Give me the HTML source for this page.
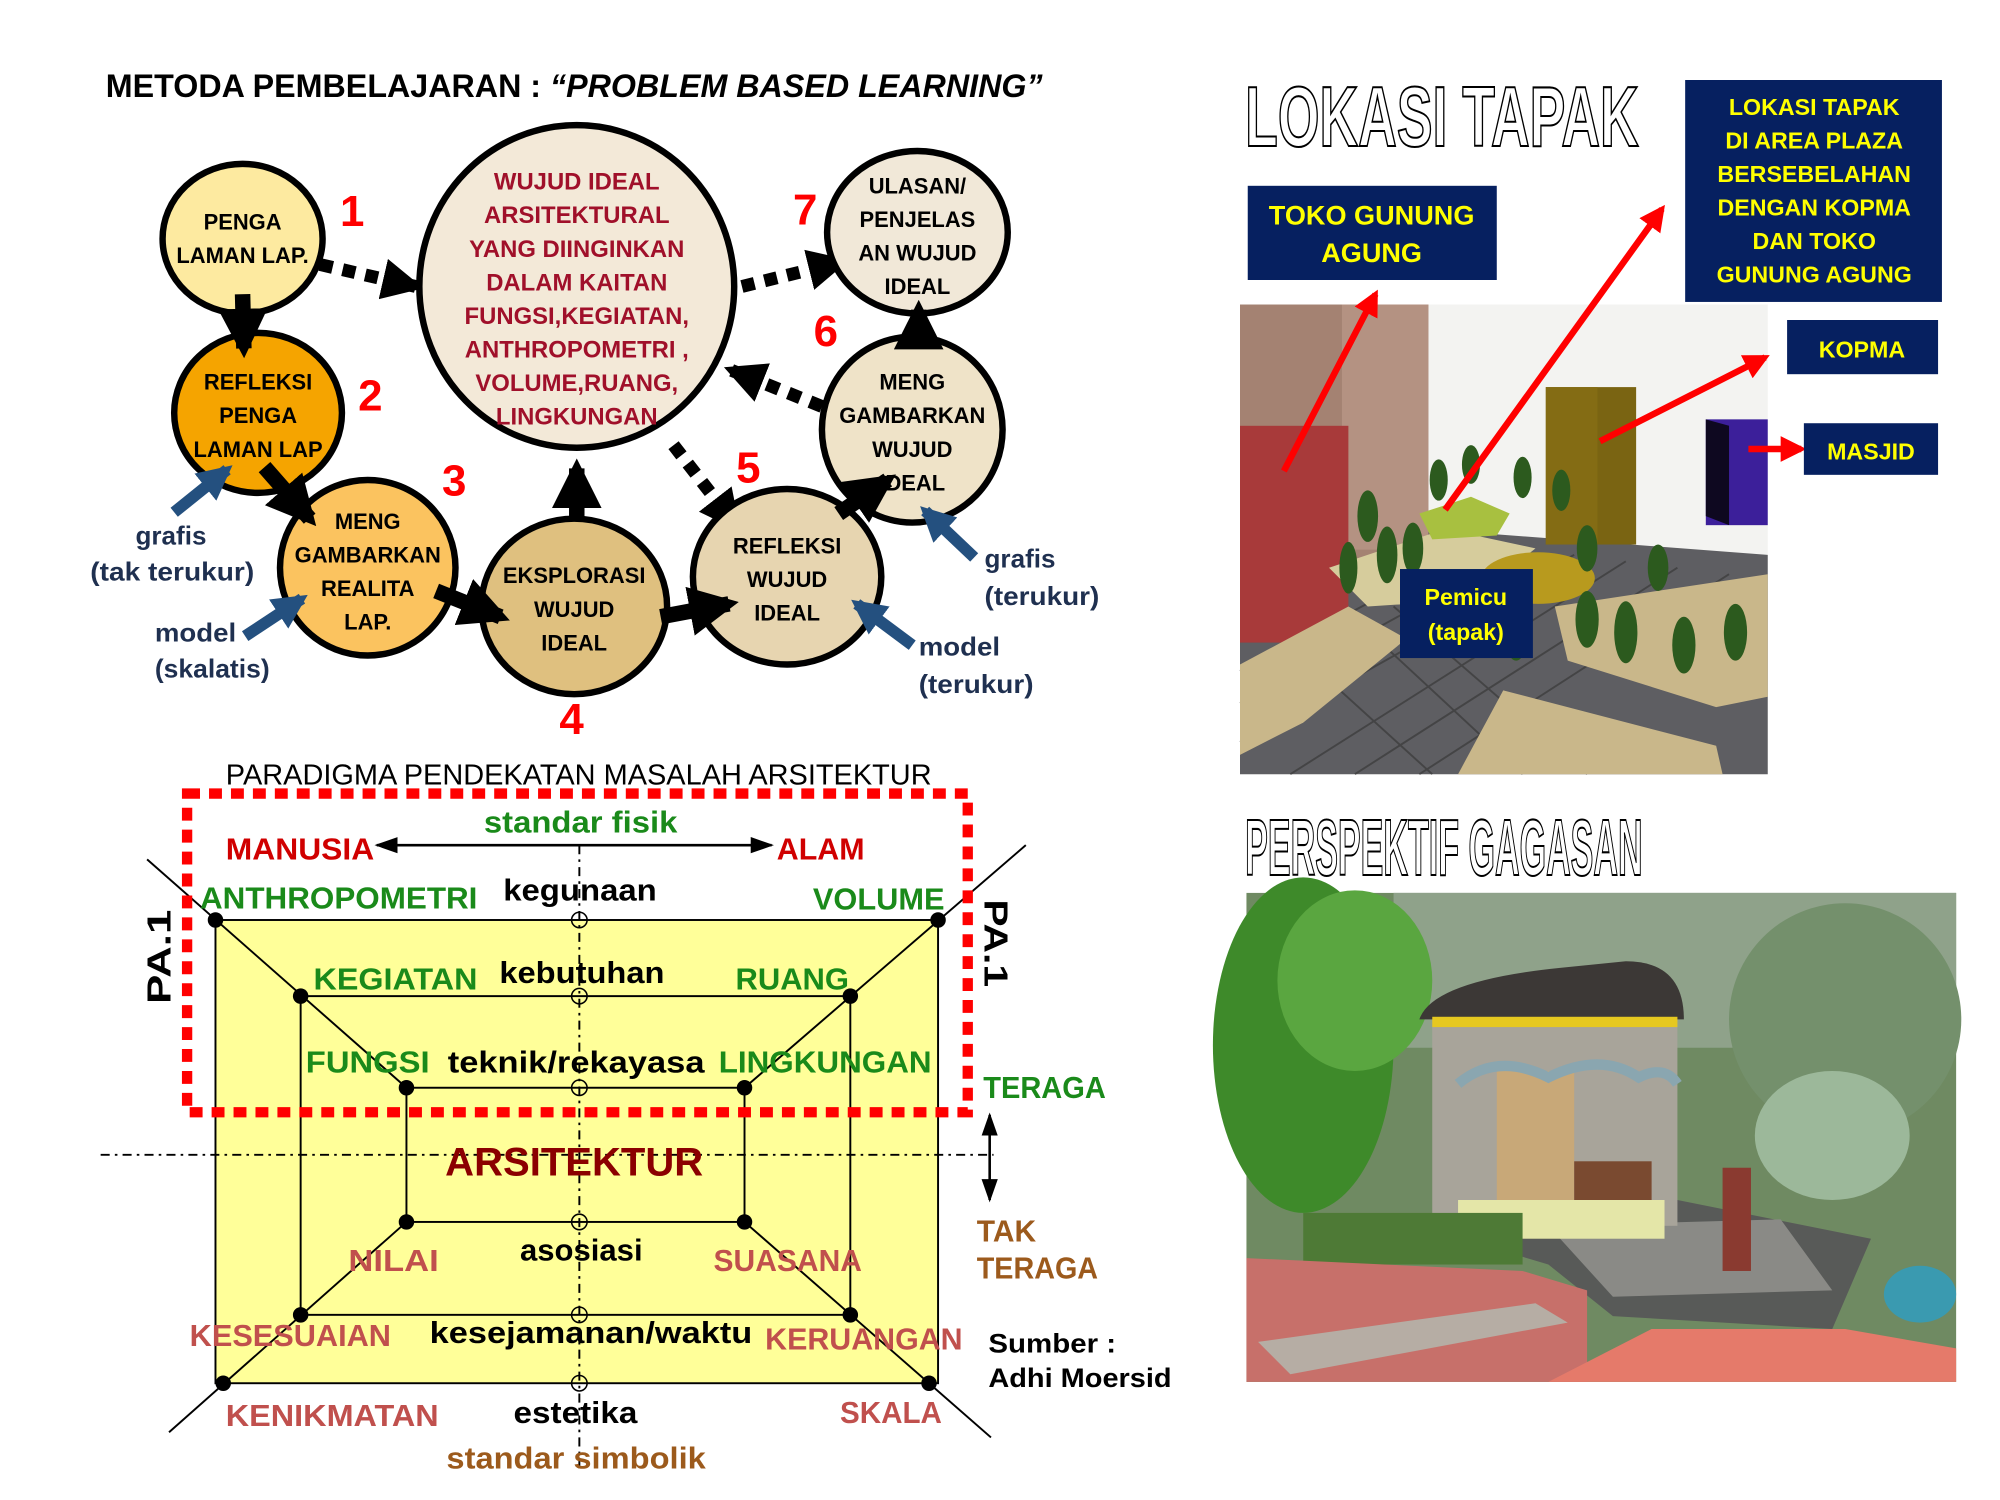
<!DOCTYPE html>
<html><head><meta charset="utf-8"><style>
html,body{margin:0;padding:0;background:#fff;width:2000px;height:1500px;overflow:hidden}
svg{display:block}
.c{font-family:"Liberation Sans Narrow","Liberation Sans",sans-serif;font-weight:bold}
.s{font-family:"Liberation Sans","DejaVu Sans",sans-serif;font-weight:bold}
</style></head><body>
<svg width="2000" height="1500" viewBox="0 0 1550 1162.5" preserveAspectRatio="none" xmlns="http://www.w3.org/2000/svg">
<defs>
<marker id="ah" viewBox="0 0 10 10" refX="8" refY="5" markerWidth="3.2" markerHeight="3.2" orient="auto"><path d="M0,0L10,5L0,10z" fill="#000"/></marker>
<marker id="bh" viewBox="0 0 10 10" refX="8" refY="5" markerWidth="3" markerHeight="3" orient="auto"><path d="M0,0L10,5L0,10z" fill="#24507f"/></marker>
<marker id="rh" viewBox="0 0 10 10" refX="8" refY="5" markerWidth="4" markerHeight="4" orient="auto"><path d="M0,0L10,5L0,10z" fill="#f00"/></marker>
<marker id="th" viewBox="0 0 10 10" refX="9" refY="5" markerWidth="9" markerHeight="9" orient="auto-start-reverse"><path d="M0,1.5L10,5L0,8.5z" fill="#000"/></marker>
</defs>
<rect width="1550" height="1163" fill="#fff"/>

<text x="82" y="75" class="c" font-size="25" textLength="726" lengthAdjust="spacingAndGlyphs">METODA PEMBELAJARAN : <tspan font-style="italic">“PROBLEM BASED LEARNING”</tspan></text>

<g stroke="#000" fill="none">
<line x1="248" y1="205" x2="322" y2="222" stroke-width="10" stroke-dasharray="10 8" marker-end="url(#ah)"/>
<line x1="575" y1="222" x2="652" y2="203" stroke-width="10" stroke-dasharray="10 8" marker-end="url(#ah)"/>
<line x1="637" y1="315" x2="567" y2="287" stroke-width="10" stroke-dasharray="10 8" marker-end="url(#ah)"/>
<line x1="522" y1="345" x2="570" y2="407" stroke-width="10" stroke-dasharray="10 8" marker-end="url(#ah)"/>
<line x1="447" y1="405" x2="447" y2="363" stroke-width="12" marker-end="url(#ah)"/>
</g>

<g stroke="#000" stroke-width="5">
<ellipse cx="188" cy="185" rx="62" ry="58" fill="#fdeaa0"/>
<ellipse cx="447" cy="222" rx="122" ry="125" fill="#f3e9d8"/>
<ellipse cx="711" cy="180" rx="70" ry="63" fill="#f1e8d8"/>
<ellipse cx="200" cy="320" rx="65" ry="62" fill="#f5a400"/>
<ellipse cx="707" cy="333" rx="70" ry="72" fill="#efe3c8"/>
<ellipse cx="285" cy="440" rx="68" ry="68" fill="#fbc35f"/>
<ellipse cx="445" cy="470" rx="72" ry="68" fill="#dfc07f"/>
<ellipse cx="610" cy="447" rx="73" ry="68" fill="#e7d5b0"/>
</g>
<g stroke="#000" fill="none">
<line x1="188" y1="228" x2="189" y2="270" stroke-width="12" marker-end="url(#ah)"/>
<line x1="205" y1="362" x2="240" y2="402" stroke-width="12" marker-end="url(#ah)"/>
<line x1="338" y1="458" x2="388" y2="478" stroke-width="12" marker-end="url(#ah)"/>
<line x1="512" y1="478" x2="565" y2="468" stroke-width="12" marker-end="url(#ah)"/>
<line x1="650" y1="398" x2="688" y2="372" stroke-width="12" marker-end="url(#ah)"/>
<line x1="712" y1="268" x2="712" y2="240" stroke-width="12" marker-end="url(#ah)"/>
</g>

<g class="c" font-size="17" text-anchor="middle" fill="#000">
<text x="188" y="178">PENGA</text><text x="188" y="204">LAMAN LAP.</text>
<text x="200" y="302">REFLEKSI</text><text x="200" y="328">PENGA</text><text x="200" y="354">LAMAN LAP</text>
<text x="285" y="410">MENG</text><text x="285" y="436">GAMBARKAN</text><text x="285" y="462">REALITA</text><text x="285" y="488">LAP.</text>
<text x="445" y="452">EKSPLORASI</text><text x="445" y="478">WUJUD</text><text x="445" y="504">IDEAL</text>
<text x="610" y="429">REFLEKSI</text><text x="610" y="455">WUJUD</text><text x="610" y="481">IDEAL</text>
<text x="707" y="302">MENG</text><text x="707" y="328">GAMBARKAN</text><text x="707" y="354">WUJUD</text><text x="707" y="380">IDEAL</text>
<text x="711" y="150">ULASAN/</text><text x="711" y="176">PENJELAS</text><text x="711" y="202">AN WUJUD</text><text x="711" y="228">IDEAL</text>
</g>
<g class="c" font-size="18.5" text-anchor="middle" fill="#a0102a">
<text x="447" y="147">WUJUD IDEAL</text><text x="447" y="173">ARSITEKTURAL</text><text x="447" y="199">YANG DIINGINKAN</text><text x="447" y="225">DALAM KAITAN</text><text x="447" y="251">FUNGSI,KEGIATAN,</text><text x="447" y="277">ANTHROPOMETRI ,</text><text x="447" y="303">VOLUME,RUANG,</text><text x="447" y="329">LINGKUNGAN</text>
</g>
<g class="c" font-size="34" fill="#f00" text-anchor="middle">
<text x="273" y="175">1</text><text x="287" y="318">2</text><text x="352" y="384">3</text><text x="443" y="569">4</text><text x="580" y="374">5</text><text x="640" y="268">6</text><text x="624" y="174">7</text>
</g>

<g stroke="#24507f" stroke-width="9" fill="none">
<line x1="135" y1="397" x2="176" y2="364" marker-end="url(#bh)"/>
<line x1="190" y1="493" x2="234" y2="464" marker-end="url(#bh)"/>
<line x1="755" y1="432" x2="717" y2="396" marker-end="url(#bh)"/>
<line x1="707" y1="500" x2="664" y2="468" marker-end="url(#bh)"/>
</g>
<g class="s" font-size="20" fill="#1f3050">
<text x="105" y="422" textLength="55" lengthAdjust="spacingAndGlyphs">grafis</text>
<text x="70" y="450" textLength="127" lengthAdjust="spacingAndGlyphs">(tak terukur)</text>
<text x="120" y="497" textLength="63" lengthAdjust="spacingAndGlyphs">model</text>
<text x="120" y="525" textLength="89" lengthAdjust="spacingAndGlyphs">(skalatis)</text>
<text x="763" y="440" textLength="55" lengthAdjust="spacingAndGlyphs">grafis</text>
<text x="763" y="469" textLength="89" lengthAdjust="spacingAndGlyphs">(terukur)</text>
<text x="712" y="508" textLength="63" lengthAdjust="spacingAndGlyphs">model</text>
<text x="712" y="537" textLength="89" lengthAdjust="spacingAndGlyphs">(terukur)</text>
</g>

<text x="175" y="608" font-family="Liberation Sans Narrow,Liberation Sans,sans-serif" font-size="22" textLength="547" lengthAdjust="spacingAndGlyphs">PARADIGMA PENDEKATAN MASALAH ARSITEKTUR</text>
<rect x="167" y="713" width="560" height="359" fill="#ffff99" stroke="#000" stroke-width="1.5"/>
<g stroke="#000" stroke-width="1.5" fill="none">
<rect x="233" y="772" width="426" height="247"/>
<rect x="315" y="843" width="262" height="104"/>
<line x1="114" y1="666" x2="315" y2="843"/>
<line x1="795" y1="655" x2="577" y2="843"/>
<line x1="131" y1="1110" x2="315" y2="947"/>
<line x1="768" y1="1114" x2="577" y2="947"/>
<line x1="449" y1="655" x2="449" y2="1140" stroke-dasharray="7 4 2 4"/>
<line x1="78" y1="895" x2="770" y2="895" stroke-dasharray="7 4 2 4"/>
</g>
<g fill="#000">
<circle cx="167" cy="713" r="6"/><circle cx="727" cy="713" r="6"/><circle cx="233" cy="772" r="6"/><circle cx="659" cy="772" r="6"/>
<circle cx="315" cy="843" r="6"/><circle cx="577" cy="843" r="6"/><circle cx="315" cy="947" r="6"/><circle cx="577" cy="947" r="6"/>
<circle cx="233" cy="1019" r="6"/><circle cx="659" cy="1019" r="6"/><circle cx="173" cy="1072" r="6"/><circle cx="720" cy="1072" r="6"/>
</g>
<g fill="none" stroke="#000" stroke-width="1.2">
<circle cx="449" cy="713" r="6"/><circle cx="449" cy="772" r="6"/><circle cx="449" cy="843" r="6"/><circle cx="449" cy="947" r="6"/><circle cx="449" cy="1019" r="6"/><circle cx="449" cy="1072" r="6"/>
</g>
<rect x="145" y="615" width="605" height="247" fill="none" stroke="#f00" stroke-width="8" stroke-dasharray="10 7"/>
<line x1="292" y1="655" x2="598" y2="655" stroke="#000" stroke-width="2" marker-start="url(#th)" marker-end="url(#th)"/>
<line x1="767" y1="864" x2="767" y2="930" stroke="#000" stroke-width="2" marker-start="url(#th)" marker-end="url(#th)"/>

<g class="c" font-size="24">
<text x="375" y="645" fill="#1a8a1a" textLength="150" lengthAdjust="spacingAndGlyphs">standar fisik</text>
<text x="175" y="666" fill="#d00000" textLength="115" lengthAdjust="spacingAndGlyphs">MANUSIA</text>
<text x="602" y="666" fill="#d00000" textLength="68" lengthAdjust="spacingAndGlyphs">ALAM</text>
<text x="155" y="704" fill="#1a8a1a" textLength="215" lengthAdjust="spacingAndGlyphs">ANTHROPOMETRI</text>
<text x="390" y="698" fill="#000" textLength="119" lengthAdjust="spacingAndGlyphs">kegunaan</text>
<text x="630" y="705" fill="#1a8a1a" textLength="102" lengthAdjust="spacingAndGlyphs">VOLUME</text>
<text x="243" y="767" fill="#1a8a1a" textLength="127" lengthAdjust="spacingAndGlyphs">KEGIATAN</text>
<text x="387" y="762" fill="#000" textLength="128" lengthAdjust="spacingAndGlyphs">kebutuhan</text>
<text x="570" y="767" fill="#1a8a1a" textLength="88" lengthAdjust="spacingAndGlyphs">RUANG</text>
<text x="237" y="831" fill="#1a8a1a" textLength="96" lengthAdjust="spacingAndGlyphs">FUNGSI</text>
<text x="347" y="831" fill="#000" textLength="199" lengthAdjust="spacingAndGlyphs">teknik/rekayasa</text>
<text x="557" y="831" fill="#1a8a1a" textLength="165" lengthAdjust="spacingAndGlyphs">LINGKUNGAN</text>
<text x="762" y="851" fill="#1a8a1a" textLength="95" lengthAdjust="spacingAndGlyphs">TERAGA</text>
<text x="345" y="911" fill="#8b0000" font-size="31" textLength="200" lengthAdjust="spacingAndGlyphs">ARSITEKTUR</text>
<text x="757" y="962" fill="#9c5a1c" textLength="46" lengthAdjust="spacingAndGlyphs">TAK</text>
<text x="757" y="991" fill="#9c5a1c" textLength="94" lengthAdjust="spacingAndGlyphs">TERAGA</text>
<text x="270" y="985" fill="#c0504d" textLength="70" lengthAdjust="spacingAndGlyphs">NILAI</text>
<text x="403" y="977" fill="#000" textLength="95" lengthAdjust="spacingAndGlyphs">asosiasi</text>
<text x="553" y="985" fill="#c0504d" textLength="115" lengthAdjust="spacingAndGlyphs">SUASANA</text>
<text x="147" y="1043" fill="#c0504d" textLength="156" lengthAdjust="spacingAndGlyphs">KESESUAIAN</text>
<text x="333" y="1041" fill="#000" textLength="250" lengthAdjust="spacingAndGlyphs">kesejamanan/waktu</text>
<text x="593" y="1046" fill="#c0504d" textLength="153" lengthAdjust="spacingAndGlyphs">KERUANGAN</text>
<text x="766" y="1048" fill="#000" font-size="21" textLength="99" lengthAdjust="spacingAndGlyphs">Sumber :</text>
<text x="766" y="1075" fill="#000" font-size="21" textLength="142" lengthAdjust="spacingAndGlyphs">Adhi Moersid</text>
<text x="175" y="1105" fill="#c0504d" textLength="165" lengthAdjust="spacingAndGlyphs">KENIKMATAN</text>
<text x="398" y="1103" fill="#000" textLength="96" lengthAdjust="spacingAndGlyphs">estetika</text>
<text x="651" y="1103" fill="#c0504d" textLength="79" lengthAdjust="spacingAndGlyphs">SKALA</text>
<text x="346" y="1138" fill="#9c5a1c" textLength="201" lengthAdjust="spacingAndGlyphs">standar simbolik</text>
</g>
<text class="s" font-size="26" transform="translate(132,778) rotate(-90)" textLength="73" lengthAdjust="spacingAndGlyphs">PA.1</text>
<text class="s" font-size="26" transform="translate(763,697) rotate(90)" textLength="68" lengthAdjust="spacingAndGlyphs">PA.1</text>

<text x="965" y="113" class="c" font-size="66" fill="#fff" stroke="#000" stroke-width="1.6" textLength="305" lengthAdjust="spacingAndGlyphs">LOKASI TAPAK</text>
<text x="965" y="678" class="c" font-size="62" fill="#fff" stroke="#000" stroke-width="1.6" textLength="308" lengthAdjust="spacingAndGlyphs">PERSPEKTIF GAGASAN</text>

<g>
<rect x="961" y="236" width="409" height="364" fill="#f3f3f1"/>
<polygon points="1040,405 1370,430 1370,600 961,600 961,480" fill="#5e5e62"/>
<g stroke="#3a3a3a" stroke-width="1.5" opacity="0.7">
<line x1="961" y1="520" x2="1150" y2="420"/><line x1="961" y1="545" x2="1180" y2="425"/><line x1="961" y1="575" x2="1220" y2="430"/>
<line x1="1000" y1="600" x2="1260" y2="435"/><line x1="1050" y1="600" x2="1300" y2="440"/><line x1="1100" y1="600" x2="1340" y2="445"/>
<line x1="1040" y1="470" x2="1180" y2="600"/><line x1="1080" y1="470" x2="1230" y2="600"/><line x1="1000" y1="500" x2="1110" y2="600"/>
</g>
<rect x="961" y="236" width="146" height="200" fill="#a48272"/>
<rect x="1040" y="236" width="67" height="190" fill="#b49282"/>
<rect x="961" y="330" width="84" height="168" fill="#a83a3a"/>
<polygon points="961,515 1045,470 1090,495 1010,560 961,585" fill="#c9b78a"/>
<polygon points="1130,600 1165,535 1330,578 1335,600" fill="#c9b78a"/>
<polygon points="1205,470 1370,445 1370,540 1330,548 1215,512" fill="#c9b78a"/>
<polygon points="1030,440 1120,410 1190,425 1140,465 1060,470" fill="#d6cc9c"/>
<rect x="1198" y="300" width="70" height="122" fill="#7a6412"/>
<rect x="1198" y="300" width="40" height="122" fill="#846c14"/>
<rect x="1322" y="325" width="48" height="82" fill="#3c1f9a"/>
<polygon points="1322,325 1340,330 1340,407 1322,400" fill="#0e0820"/>
<polygon points="1100,398 1140,385 1170,398 1160,415 1110,418" fill="#a8c040"/>
<ellipse cx="1192" cy="448" rx="44" ry="20" fill="#b89a1e"/>
<g fill="#2c5a1e">
<ellipse cx="1060" cy="400" rx="8" ry="20"/><ellipse cx="1075" cy="430" rx="8" ry="22"/><ellipse cx="1045" cy="440" rx="7" ry="20"/>
<ellipse cx="1095" cy="425" rx="8" ry="20"/><ellipse cx="1115" cy="372" rx="7" ry="16"/><ellipse cx="1140" cy="360" rx="7" ry="15"/>
<ellipse cx="1180" cy="370" rx="7" ry="16"/><ellipse cx="1210" cy="380" rx="7" ry="16"/><ellipse cx="1175" cy="490" rx="9" ry="22"/>
<ellipse cx="1230" cy="480" rx="9" ry="22"/><ellipse cx="1260" cy="490" rx="9" ry="24"/><ellipse cx="1305" cy="500" rx="9" ry="22"/>
<ellipse cx="1345" cy="490" rx="9" ry="22"/><ellipse cx="1285" cy="440" rx="8" ry="18"/><ellipse cx="1230" cy="425" rx="8" ry="18"/>
</g>
</g>
<g stroke="#f00" stroke-width="5" fill="none">
<line x1="995" y1="365" x2="1066" y2="228" marker-end="url(#rh)"/>
<line x1="1120" y1="395" x2="1288" y2="162" marker-end="url(#rh)"/>
<line x1="1240" y1="342" x2="1368" y2="277" marker-end="url(#rh)"/>
<line x1="1355" y1="348" x2="1396" y2="348" marker-end="url(#rh)"/>
</g>

<g fill="#062060">
<rect x="1306" y="62" width="199" height="172"/>
<rect x="967" y="144" width="193" height="73"/>
<rect x="1385" y="248" width="117" height="42"/>
<rect x="1398" y="328" width="104" height="40"/>
<rect x="1085" y="441" width="103" height="69"/>
</g>
<g class="c" font-size="18" fill="#ffff00" text-anchor="middle">
<text x="1406" y="89">LOKASI TAPAK</text><text x="1406" y="115">DI AREA PLAZA</text><text x="1406" y="141">BERSEBELAHAN</text><text x="1406" y="167">DENGAN KOPMA</text><text x="1406" y="193">DAN TOKO</text><text x="1406" y="219">GUNUNG AGUNG</text>
<text x="1063" y="174" font-size="21">TOKO GUNUNG</text><text x="1063" y="203" font-size="21">AGUNG</text>
<text x="1443" y="277">KOPMA</text><text x="1450" y="356">MASJID</text>
<text x="1136" y="469">Pemicu</text><text x="1136" y="496">(tapak)</text>
</g>

<g>
<rect x="966" y="692" width="550" height="379" fill="#6f8a62"/>
<rect x="1080" y="692" width="436" height="120" fill="#8fa28a"/>
<ellipse cx="1010" cy="810" rx="70" ry="130" fill="#3e8a2a"/>
<ellipse cx="1050" cy="760" rx="60" ry="70" fill="#5aa640"/>
<ellipse cx="1430" cy="790" rx="90" ry="90" fill="#74906c"/>
<ellipse cx="1420" cy="880" rx="60" ry="50" fill="#9cb89a"/>
<polygon points="1100,950 1300,930 1450,960 1420,1030 1250,1020 1200,980" fill="#585a58"/>
<polygon points="1200,950 1380,945 1420,1000 1250,1005" fill="#8a8a86"/>
<rect x="1110" y="780" width="190" height="170" fill="#a8a49a"/>
<rect x="1160" y="830" width="60" height="100" fill="#c8a878"/>
<rect x="1220" y="900" width="60" height="50" fill="#7a4a30"/>
<rect x="1130" y="930" width="160" height="30" fill="#e4e6a8"/>
<path d="M1100,790 Q1110,760 1210,750 L1260,745 Q1305,745 1305,790 Z" fill="#3c3836"/>
<rect x="1110" y="788" width="190" height="8" fill="#e6c820"/>
<path d="M1130,840 Q1160,815 1200,835 Q1240,815 1270,835 Q1290,825 1300,840" stroke="#8aa6b0" stroke-width="8" fill="none"/>
<rect x="1335" y="905" width="22" height="80" fill="#8a3a30"/>
<rect x="1010" y="940" width="170" height="40" fill="#4e7a36"/>
<polygon points="966,975 1180,985 1230,1000 1230,1071 966,1071" fill="#c7706a"/>
<polygon points="975,1040 1190,1010 1215,1025 1000,1065" fill="#b6ada4"/>
<polygon points="1200,1071 1280,1030 1430,1030 1516,1045 1516,1071" fill="#e57a6a"/>
<ellipse cx="1488" cy="1003" rx="28" ry="22" fill="#3a9ab0"/>
</g>
</svg>
</body></html>
